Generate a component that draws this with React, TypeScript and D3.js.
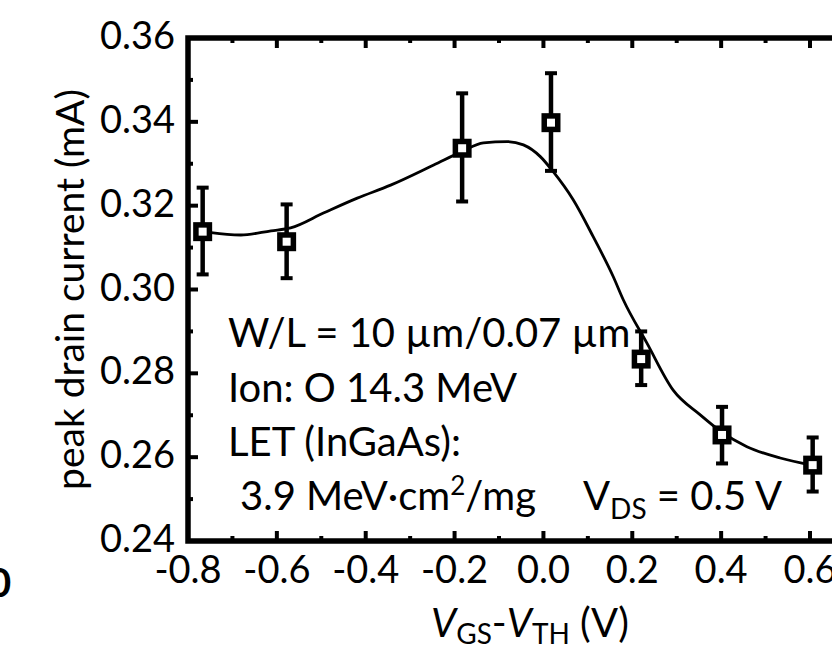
import React from "react";
import * as d3 from "d3";

// measured points
const vgs = [-0.767, -0.578, -0.183, 0.017, 0.22, 0.402, 0.606];
const current = [0.3138, 0.3114, 0.3337, 0.3398, 0.2834, 0.2653, 0.2581];
const errHigh = [0.3243, 0.3203, 0.3468, 0.3516, 0.29, 0.272, 0.2647];
const errLow = [0.3036, 0.3027, 0.321, 0.3283, 0.2772, 0.2585, 0.2518];

// fitted guide curve
const fitX = [-0.764, -0.748, -0.681, -0.613, -0.569, -0.494, -0.419, -0.344, -0.247, -0.184, -0.135, -0.082, -0.045, -0.007, 0.022, 0.067, 0.112, 0.157, 0.18, 0.233, 0.292, 0.353, 0.4, 0.458, 0.533, 0.604];
const fitY = [0.3138, 0.31355, 0.313, 0.314, 0.3147, 0.3183, 0.3218, 0.3249, 0.3297, 0.3329, 0.335, 0.3353, 0.3345, 0.3317, 0.3281, 0.3214, 0.3126, 0.3031, 0.2975, 0.2872, 0.276, 0.2701, 0.2661, 0.2625, 0.2598, 0.2581];

const xMajor = [-0.8, -0.6, -0.4, -0.2, 0.0, 0.2, 0.4, 0.6];
const xMajorLabels = ["-0.8", "-0.6", "-0.4", "-0.2", "0.0", "0.2", "0.4", "0.6"];
const xMinor = [-0.7, -0.5, -0.3, -0.1, 0.1, 0.3, 0.5];
const yMajor = [0.24, 0.26, 0.28, 0.3, 0.32, 0.34, 0.36];
const yMajorLabels = ["0.24", "0.26", "0.28", "0.30", "0.32", "0.34", "0.36"];
const yMinor = [0.25, 0.27, 0.29, 0.31, 0.33, 0.35];

const font = "Lato, 'Open Sans', sans-serif";

export default function App() {
  const W = 832;
  const H = 658;
  const x = d3.scaleLinear().domain([-0.8, 0.6]).range([188, 810]);
  const y = d3.scaleLinear().domain([0.24, 0.36]).range([541, 38]);
  const left = x(-0.8);
  const top = y(0.36);
  const bottom = y(0.24);
  const right = W + 30;

  const line = d3
    .line<number>()
    .x((_, i) => x(fitX[i]))
    .y((d) => y(d))
    .curve(d3.curveMonotoneX);

  const sq = 13.5;

  return (
    <svg
      width={W}
      height={H}
      viewBox={`0 0 ${W} ${H}`}
      style={{ position: "absolute", left: 0, top: 0, background: "#fff" }}
      fontFamily={font}
    >
      <rect width={W} height={H} fill="#fff" />

      {/* fit curve */}
      <path d={line(fitY) || ""} fill="none" stroke="#000" strokeWidth={2.8} />

      {/* error bars and squares */}
      {vgs.map((v, i) => (
        <g key={i}>
          <line x1={x(v)} x2={x(v)} y1={y(errHigh[i])} y2={y(errLow[i])} stroke="#000" strokeWidth={4.5} />
          <line x1={x(v) - 6} x2={x(v) + 6} y1={y(errHigh[i])} y2={y(errHigh[i])} stroke="#000" strokeWidth={4} />
          <line x1={x(v) - 6} x2={x(v) + 6} y1={y(errLow[i])} y2={y(errLow[i])} stroke="#000" strokeWidth={4} />
          <rect
            x={x(v) - sq / 2}
            y={y(current[i]) - sq / 2}
            width={sq}
            height={sq}
            fill="#fff"
            stroke="#000"
            strokeWidth={5.5}
          />
        </g>
      ))}

      {/* frame */}
      <path d={`M${right},${top}H${left}V${bottom}H${right}`} fill="none" stroke="#000" strokeWidth={5.5} />

      {/* y ticks */}
      {yMajor.map((t) => (
        <line key={"ym" + t} x1={left} x2={left + 10} y1={y(t)} y2={y(t)} stroke="#000" strokeWidth={4} />
      ))}
      {yMinor.map((t) => (
        <line key={"yn" + t} x1={left} x2={left + 5} y1={y(t)} y2={y(t)} stroke="#000" strokeWidth={4} />
      ))}
      {/* x ticks bottom and top */}
      {xMajor.map((t) => (
        <g key={"xm" + t}>
          <line x1={x(t)} x2={x(t)} y1={bottom} y2={bottom - 10} stroke="#000" strokeWidth={4} />
          <line x1={x(t)} x2={x(t)} y1={top} y2={top + 10} stroke="#000" strokeWidth={4} />
        </g>
      ))}
      {xMinor.map((t) => (
        <g key={"xn" + t}>
          <line x1={x(t)} x2={x(t)} y1={bottom} y2={bottom - 5} stroke="#000" strokeWidth={4} />
          <line x1={x(t)} x2={x(t)} y1={top} y2={top + 5} stroke="#000" strokeWidth={4} />
        </g>
      ))}

      {/* tick labels */}
      {yMajor.map((t, i) => (
        <text key={"yl" + t} x={175} y={y(t) + 11} textAnchor="end" fontSize={38} fill="#000">
          {yMajorLabels[i]}
        </text>
      ))}
      {xMajor.map((t, i) => (
        <text key={"xl" + t} x={x(t)} y={bottom + 42} textAnchor="middle" fontSize={38} fill="#000">
          {xMajorLabels[i]}
        </text>
      ))}

      {/* axis titles */}
      <text
        transform={`translate(84,${(top + bottom) / 2}) rotate(-90)`}
        textAnchor="middle"
        fontSize={39}
        fill="#000"
      >
        peak drain current (mA)
      </text>
      <text x={530} y={637} textAnchor="middle" fontSize={40} fill="#000">
        <tspan fontStyle="italic">V</tspan>
        <tspan fontSize={28} dy={7}>GS</tspan>
        <tspan dy={-7}>-</tspan>
        <tspan fontStyle="italic">V</tspan>
        <tspan fontSize={28} dy={7}>TH</tspan>
        <tspan dy={-7}> (V)</tspan>
      </text>

      {/* annotations */}
      <g fontSize={40} fill="#000">
        <text x={228} y={347}>W/L = 10 µm/0.07 µm</text>
        <text x={228} y={402}>Ion: O 14.3 MeV</text>
        <text x={228} y={456}>LET (InGaAs):</text>
        <text x={240} y={510}>
          3.9 MeV·cm<tspan fontSize={26} dy={-15}>2</tspan>
          <tspan dy={15}>/mg</tspan>
        </text>
        <text x={583} y={510}>
          V<tspan fontSize={28} dy={9}>DS</tspan>
          <tspan dy={-9}> = 0.5 V</tspan>
        </text>
      </g>

      {/* clipped panel label from neighbouring figure */}
      <text x={-12} y={597} fontSize={40} fontWeight="bold" fill="#000">0</text>
    </svg>
  );
}
